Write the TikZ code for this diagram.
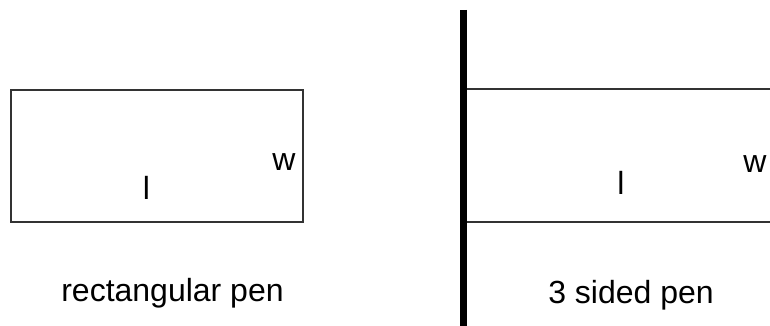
\documentclass[tikz,border=0pt]{standalone}
\usepackage{fontspec}
\setmainfont{Liberation Sans}
\begin{document}
\begin{tikzpicture}[x=1pt,y=-1pt,
  thinline/.style={draw=black!80,line width=1.1pt},
  wall/.style={draw=black,line width=7pt},
  lbl/.style={anchor=base,inner sep=0pt,font=\fontsize{32}{38}\selectfont}]
  \useasboundingbox (0,0) rectangle (770,326);
  % rectangular pen
  \node[thinline,minimum width=292pt,minimum height=132pt,inner sep=0pt] (pen) at (157,156) {};
  \node[lbl] (w1) at (284,170) {w};
  \node[lbl] (l1) at (146.5,199) {l};
  \node[lbl] (cap1) at (172.5,301) {rectangular pen};
  % 3 sided pen against a wall
  \coordinate (wtop) at (463.5,10);
  \coordinate (wbot) at (463.5,326);
  \draw[wall] (wtop) -- (wbot);
  \coordinate (ta) at (467,89);
  \coordinate (tb) at (770,89);
  \coordinate (ba) at (467,222);
  \coordinate (bb) at (770,222);
  \draw[thinline] (ta) -- (tb);
  \draw[thinline] (ba) -- (bb);
  \node[lbl] (w2) at (755,172) {w};
  \node[lbl] (l2) at (621,194) {l};
  \node[lbl] (cap2) at (631,303) {3 sided pen};
\end{tikzpicture}
\end{document}
